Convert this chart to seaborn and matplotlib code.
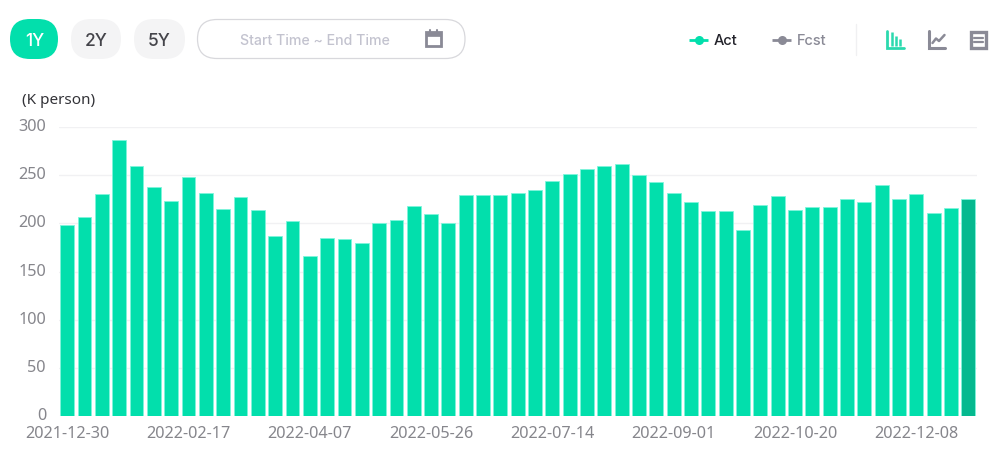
import matplotlib
matplotlib.use("Agg")
import matplotlib.pyplot as plt
from matplotlib.patches import FancyBboxPatch, Rectangle
from matplotlib.transforms import ScaledTranslation
import pandas as pd
import seaborn as sns

start_date = "2021-12-30"
weeks = 53
values = [198, 207, 230, 286, 260, 238, 223, 248, 232, 215,
          227, 214, 187, 202, 166, 185, 184, 180, 200, 203,
          218, 210, 200, 229, 229, 229, 231, 235, 244, 251,
          256, 260, 262, 250, 243, 232, 222, 213, 213, 193,
          219, 228, 214, 217, 217, 225, 222, 240, 225, 230,
          211, 216, 225]
y_ticks = [0, 50, 100, 150, 200, 250, 300]
unit_label = "(K person)"
range_buttons = ["1Y", "2Y", "5Y"]
date_placeholder = "Start Time ~ End Time"
legend_labels = ["Act", "Fcst"]

GREEN = "#02dfac"
DARK_GREEN = "#05b98f"
GREY = "#8a8a96"
W, H = 1007, 457

dates = pd.date_range(start_date, periods=weeks, freq="7D").strftime("%Y-%m-%d")
df = pd.DataFrame({"date": dates, "value": values})

sns.set_style("white")
plt.rcParams["font.family"] = ["Noto Sans", "DejaVu Sans"]

fig = plt.figure(figsize=(W / 100, H / 100), dpi=100, facecolor="white")
ax = fig.add_axes([58.5 / W, 1 - 416 / H, 918.5 / W, 289 / H])

palette = [GREEN] * (weeks - 1) + [DARK_GREEN]
sns.barplot(data=df, x="date", y="value", hue="date", palette=palette, legend=False,
            saturation=1, width=0.8, edgecolor="#7ff5dc", linewidth=0.6, ax=ax, zorder=3)

ax.set_xlim(-0.5, weeks - 0.5)
ax.set_ylim(0, 300)
ax.set_yticks(y_ticks)
ax.set_xticks(range(0, weeks, 7))
ax.set_xticklabels(dates[::7])
ax.set_xlabel("")
ax.set_ylabel("")
ax.tick_params(axis="both", length=0, labelsize=11.7, labelcolor="#86868c")
ax.tick_params(axis="x", pad=7)
ax.tick_params(axis="y", pad=9)
# y labels sit a little above their gridlines
shift_up = ScaledTranslation(0, 2 / 100, fig.dpi_scale_trans)
for lab in ax.get_yticklabels():
    lab.set_transform(lab.get_transform() + shift_up)
ax.grid(axis="y", color="#f1f1f3", linewidth=1)
ax.set_axisbelow(True)
sns.despine(ax=ax, left=True, bottom=True, top=True, right=True)

# top bar drawn in pixel coordinates
ui = fig.add_axes([0, 0, 1, 1], facecolor="none")
ui.set_xlim(0, W)
ui.set_ylim(H, 0)
ui.axis("off")


def pill(x0, x1, y0, y1, fc, ec="none"):
    r = (y1 - y0) / 2
    ui.add_patch(FancyBboxPatch((x0 + r, y0 + r), x1 - x0 - 2 * r, 0,
                                boxstyle=f"round,pad={r}", fc=fc, ec=ec, lw=0.9))


pill(10, 58, 19, 59, GREEN)
pill(71, 121, 19, 59, "#f4f4f5")
pill(134, 185, 19, 59, "#f4f4f5")
pill(197.5, 465, 19.5, 58.5, "white", "#d8d8dc")
for label, x, c in zip(range_buttons, [34.5, 96, 159.5], ["white", "#44444a", "#44444a"]):
    ui.text(x, 39.5, label, color=c, fontsize=12.5, ha="center", va="center_baseline",
            family="Inter", fontweight="medium")
ui.text(314.5, 39.5, date_placeholder, color="#c3c3cf", fontsize=10.2, ha="center",
        va="center_baseline", family="Inter", fontweight="medium")

# calendar icon
ui.add_patch(Rectangle((425.5, 32), 15.5, 14, fc="none", ec=GREY, lw=2))
ui.add_patch(Rectangle((425.5, 32), 15.5, 3.5, fc=GREY, ec=GREY, lw=0.5))
ui.plot([429.5, 429.5], [30, 33], color=GREY, lw=1.5)
ui.plot([437, 437], [30, 33], color=GREY, lw=1.5)

ui.text(22, 99, unit_label, color="#333338", fontsize=11, ha="left", va="center_baseline")

# legend
for x, lab, c, tc in zip([689, 772], legend_labels, [GREEN, GREY], ["#22222a", GREY]):
    ui.plot([x, x + 19], [40, 40], color=c, lw=2, solid_capstyle="butt")
    ui.plot([x + 9.5], [40], "o", color=c, ms=6.5, mec="none")
    ui.text(x + 25, 39.5, lab, color=tc, fontsize=10.5, ha="left", va="center_baseline",
            family="Inter", fontweight="medium")
ui.plot([855.5, 855.5], [24, 55], color="#f0f0f2", lw=1)

# chart type icons
ui.plot([887, 887, 904], [31, 48, 48], color="#2bd9ae", lw=2, solid_joinstyle="miter")
for x, top in zip([891.5, 895.5, 899.5], [32, 36, 39]):
    ui.plot([x, x], [top, 45.5], color="#2bd9ae", lw=1.8, solid_capstyle="butt")
ui.plot([929, 929, 945], [31, 48, 48], color=GREY, lw=2.2, solid_joinstyle="miter")
ui.plot([932.5, 936, 939, 944.5], [43, 38.5, 41, 35], color=GREY, lw=1.8)
ui.add_patch(Rectangle((970.5, 32), 15.5, 15.5, fc="none", ec=GREY, lw=2.4))
ui.plot([974, 983], [37.5, 37.5], color=GREY, lw=1.6)
ui.plot([974, 983], [42, 42], color=GREY, lw=1.6)

fig.savefig("out.png", dpi=100)
